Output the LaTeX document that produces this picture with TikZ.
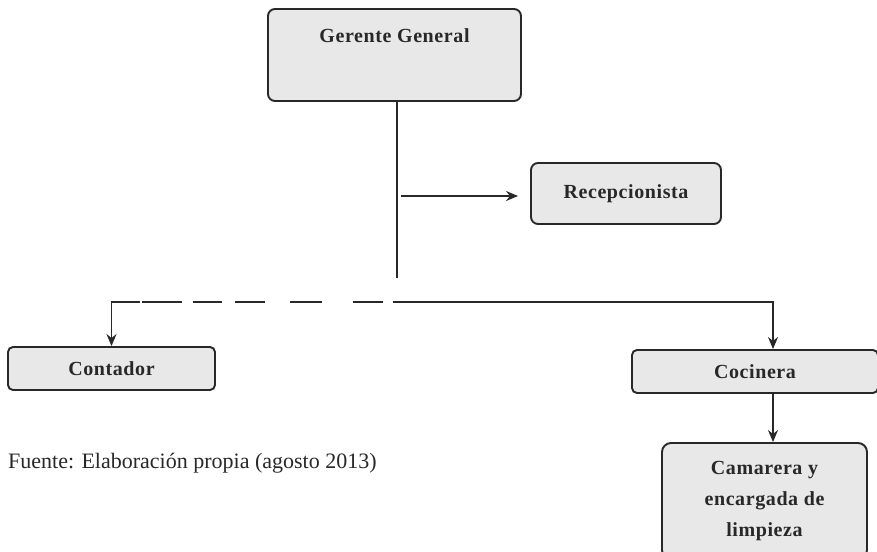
\documentclass[tikz,border=0pt]{standalone}
\usepackage{fontspec}
\setmainfont{Liberation Serif}
\newfontfamily\boxfont[LetterSpace=3]{Liberation Serif}
\usetikzlibrary{arrows.meta}
\definecolor{boxfill}{RGB}{232,232,232}
\definecolor{lin}{RGB}{40,40,40}
\tikzset{
  orgbox/.style={draw=lin, line width=1.9pt, fill=boxfill, rounded corners=7pt,
    font=\boxfont\bfseries\fontsize{20}{31}\selectfont, text=lin, align=center, inner sep=0pt},
  conn/.style={draw=lin, line width=1.6pt},
  arr/.style={conn, -{Stealth[length=12pt,width=10pt]}},
}
\begin{document}
\begin{tikzpicture}[x=1pt,y=-1pt]
\clip (0,0) rectangle (877,551);
\fill[white] (0,0) rectangle (877,551);
% nodes
\node[orgbox, minimum width=253pt, minimum height=92pt, text height=14pt, text depth=40pt, inner ysep=19pt] (gg) at (394.5,55) {Gerente General};
\node[orgbox, minimum width=190pt, minimum height=61pt] (rec) at (626,193.5) {Recepcionista};
\node[orgbox, minimum width=207pt, minimum height=43pt, rounded corners=5pt] (cont) at (111.5,368.5) {Contador};
\node[orgbox, minimum width=246pt, minimum height=43pt, rounded corners=5pt] (coc) at (755,371.5) {Cocinera};
\node[orgbox, minimum width=205pt, minimum height=116pt, rounded corners=9pt] (cam) at (764.5,501) {Camarera y\\encargada de\\limpieza};
\node[anchor=base west, inner sep=0pt, font=\fontsize{22}{26}\selectfont, text=lin] (src) at (8,468) {Fuente: Elaboración propia (agosto 2013)};
% coordinates
\coordinate (t) at (397,278);
\coordinate (ra) at (401,196);
\coordinate (jl) at (142,302);
\coordinate (jc) at (140,302);
\coordinate (jd) at (393,302);
\coordinate (jr) at (773,302);
% connectors
\draw[conn] (gg.south -| t) -- (t);
\draw[arr, shorten >=12pt] (ra) -- (ra -| rec.west);
\draw[conn, dash pattern=on 40pt off 11pt on 29pt off 13pt on 30pt off 25pt on 32pt off 31pt on 30pt off 20pt] (jl) -- (jd);
\draw[arr] (jc) -| (cont.north);
\draw[arr] (jd) -- (jr) -- (coc.north -| jr);
\draw[arr] (coc.south -| jr) -- (cam.north -| jr);
\end{tikzpicture}
\end{document}
